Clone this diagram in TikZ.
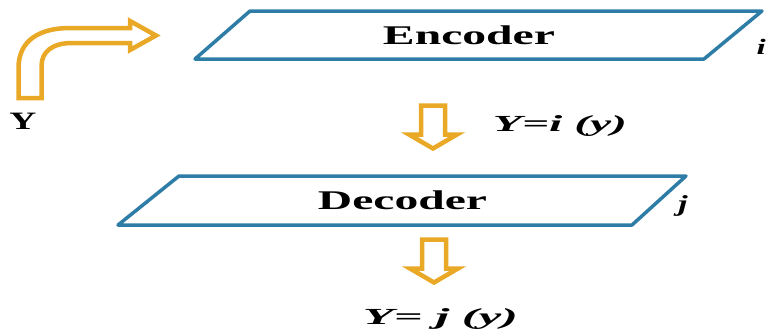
\documentclass[tikz,border=0pt]{standalone}
\usepackage{fontspec}
\setmainfont{Liberation Serif}
\usepackage{graphicx}

\definecolor{frameblue}{RGB}{46,125,166}
\definecolor{arroworange}{RGB}{233,168,37}
\newcommand{\stretchto}[2]{\resizebox{#1}{\height}{#2}}

\begin{document}
\begin{tikzpicture}[x=1pt,y=-1pt,
    box/.style={draw=frameblue,line width=3.5pt,line join=round},
    blockarrow/.style={draw=arroworange,line width=4.5pt,fill=white},
    lab/.style={inner sep=0pt,anchor=base},
    downarr/.pic={\draw[blockarrow] (-12,0) -- (12,0) -- (12,29) -- (24,29) -- (0,43) -- (-24,29) -- (-12,29) -- cycle;}]
        \useasboundingbox (0,0) rectangle (766,333);
        \clip (0,0) rectangle (766,333);
        % input arrow
        \draw[blockarrow] (18.5,98) -- (18.5,68) .. controls (18.5,40) and (40,28) .. (70,28) -- (130,28) -- (130,21) -- (156,35.5) -- (130,50) -- (130,43) -- (72,43) .. controls (52,43) and (41.5,52) .. (41.5,66) -- (41.5,98) -- cycle;
        \node[lab,font=\fontsize{25}{29}\selectfont\bfseries] (ylab) at (23,129) {\stretchto{27pt}{Y}};
        % encoder
        \draw[box] (195,59) -- (250,11) -- (762,11) -- (704,59) -- cycle;
        \node[lab,font=\fontsize{27}{31}\selectfont\bfseries] (enc) at (469,44) {\stretchto{172pt}{Encoder}};
        \node[lab,anchor=base east,font=\fontsize{22}{26}\selectfont\bfseries\itshape] (ilab) at (766,54) {\scalebox{1.5}[1]{i}};
        \pic at (433,105.5) {downarr};
        \node[lab,font=\fontsize{23}{27}\selectfont\bfseries\itshape] (yi) at (560,131) {\stretchto{134pt}{Y=i (y)}};
        % decoder
        \draw[box] (118,225) -- (179,176) -- (686,176) -- (632,225) -- cycle;
        \node[lab,font=\fontsize{27}{31}\selectfont\bfseries] (dec) at (402.5,209) {\stretchto{169pt}{Decoder}};
        \node[lab,font=\fontsize{23}{27}\selectfont\bfseries\itshape] (jlab) at (683,211) {\scalebox{1.5}[1]{j}};
        \pic at (434,239.5) {downarr};
        \node[lab,font=\fontsize{23}{27}\selectfont\bfseries\itshape] (yj) at (440.5,324) {\stretchto{155pt}{Y= j (y)}};
    \end{tikzpicture}
\end{document}
